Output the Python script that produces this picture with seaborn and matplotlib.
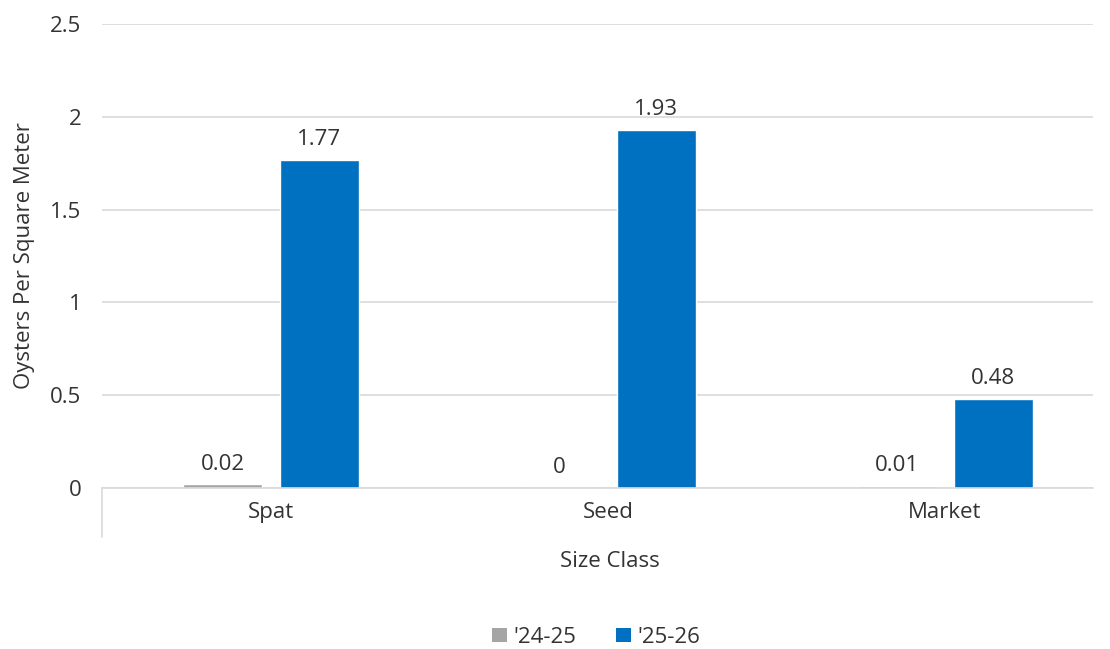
import pandas as pd
import numpy as np
import matplotlib.pyplot as plt
import seaborn as sns
from matplotlib.lines import Line2D
from matplotlib.patches import Patch

# data
size_classes = ['Spat', 'Seed', 'Market']
seasons = ["'24-25", "'25-26"]
vals_2425 = [0.02, 0, 0.01]
vals_2526 = [1.77, 1.93, 0.48]
season_colors = ['#A5A5A5', '#0070C0']

df = pd.DataFrame({
    'Size Class': size_classes * 2,
    'Season': [seasons[0]] * 3 + [seasons[1]] * 3,
    'Oysters': vals_2425 + vals_2526,
})

sns.set_theme(style='white')
plt.rcParams['font.family'] = ['Open Sans', 'DejaVu Sans']
txt_col = '#333333'
fs = 16

fig = plt.figure(figsize=(11.1, 6.49), dpi=100)
ax = fig.add_axes([0.0923, 0.248, 0.892, 0.715])

sns.barplot(data=df, x='Size Class', y='Oysters', hue='Season',
            palette=season_colors, width=0.575, gap=0.185, ax=ax,
            legend=False, saturation=1)

# value labels
for cont in ax.containers:
    ax.bar_label(cont, labels=[f'{v:g}' for v in cont.datavalues],
                 padding=7, fontsize=fs, color=txt_col)

# the original chart is cropped on the right, so categories sit a bit wider
ax.set_xlim(-0.5, 2.438)
ax.set_ylim(0, 2.5)
ax.set_yticks(np.arange(0, 2.51, 0.5))
ax.set_yticklabels(['0', '0.5', '1', '1.5', '2', '2.5'])
ax.yaxis.grid(True, color='#d9d9d9', linewidth=1.2)
ax.set_axisbelow(True)
for s in ['top', 'right', 'left']:
    ax.spines[s].set_visible(False)
ax.spines['bottom'].set_color('#d9d9d9')
ax.spines['bottom'].set_linewidth(1.2)
ax.tick_params(axis='both', length=0, labelsize=fs, colors=txt_col)
ax.tick_params(axis='y', pad=15)
ax.tick_params(axis='x', pad=10)

# left category border below axis
ax.add_line(Line2D([0, 0], [0, -0.105], transform=ax.transAxes,
                   color='#d9d9d9', linewidth=1.2, clip_on=False))

ax.set_xlabel('Size Class', fontsize=fs, color=txt_col)
ax.xaxis.set_label_coords(0.512, -0.135)
ax.set_ylabel('Oysters Per Square Meter', fontsize=fs, color=txt_col)
ax.yaxis.set_label_coords(-0.068, 0.5)

handles = [Patch(facecolor=c, edgecolor='none') for c in season_colors]
fig.legend(handles, seasons, loc='center', bbox_to_anchor=(0.537, 0.018),
           ncol=2, frameon=False, fontsize=fs, handlelength=0.65,
           handleheight=0.65, handletextpad=0.3, columnspacing=1.8,
           labelcolor=txt_col)

fig.savefig('out.png', dpi=100)
